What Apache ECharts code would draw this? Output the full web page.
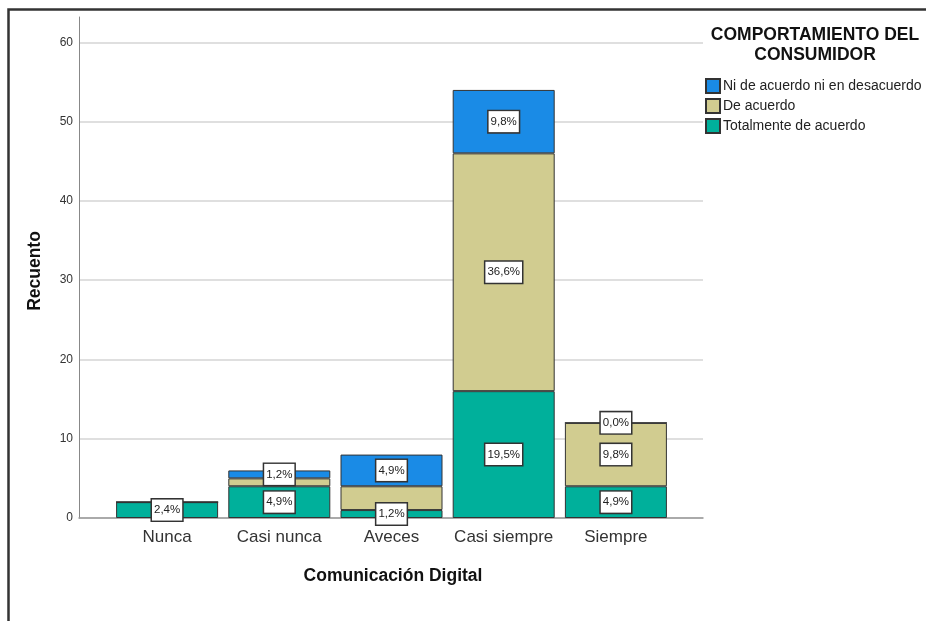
<!DOCTYPE html>
<html>
<head>
<meta charset="utf-8">
<script src="https://cdn.jsdelivr.net/npm/echarts@6/dist/echarts.min.js"></script>
<style>html,body{margin:0;padding:0;background:#fff}#c{width:926px;height:621px}</style>
</head>
<body>
<div id="c"></div>
<script>
const categories = ['Nunca', 'Casi nunca', 'Aveces', 'Casi siempre', 'Siempre'];
const seriesNames = ['Ni de acuerdo ni en desacuerdo', 'De acuerdo', 'Totalmente de acuerdo'];
const totalmente = [2, 4, 1, 16, 4];
const deAcuerdo = [0, 1, 3, 30, 8];
const niNi = [0, 1, 4, 8, 0];
const labTotalmente = ['2,4%', '4,9%', '1,2%', '19,5%', '4,9%'];
const labDeAcuerdo = ['', '', '', '36,6%', '9,8%'];
const labNiNi = ['', '1,2%', '4,9%', '9,8%', '0,0%'];
const yTicks = [0, 10, 20, 30, 40, 50, 60];

const FONT = '"Liberation Sans", Arial, sans-serif';
const colors = { niNi: '#1a8be6', deAcuerdo: '#d1cc90', totalmente: '#00b09b' };

const labelStyle = {
  position: 'inside',
  fontFamily: FONT,
  fontSize: 11.5,
  color: '#222',
  backgroundColor: '#fff',
  borderColor: '#333',
  borderWidth: 1.5,
  padding: [5, 2, 4, 2]
};

function makeData(values, labels) {
  return values.map((v, i) => ({
    value: v,
    label: { show: labels[i] !== '', formatter: labels[i] }
  }));
}

function makeSeries(name, values, labels, color) {
  return {
    name: name,
    type: 'bar',
    stack: 'total',
    xAxisIndex: 1,
    yAxisIndex: 1,
    barWidth: 102,
    itemStyle: { color: color, borderColor: '#333', borderWidth: 1 },
    label: labelStyle,
    emphasis: { disabled: true },
    data: makeData(values, labels)
  };
}

const YMAX = 63.2;
const chart = echarts.init(document.getElementById('c'), null, { renderer: 'canvas' });
chart.setOption({
  animation: false,
  backgroundColor: '#fff',
  textStyle: { fontFamily: FONT },
  grid: [
    { left: 79, width: 624, top: 17, bottom: 103 },
    { left: 111, width: 561, top: 17, bottom: 103 }
  ],
  xAxis: [
    {
      gridIndex: 0, type: 'value', min: 0, max: 1,
      axisLine: { show: true, lineStyle: { color: '#999', width: 1.5 } },
      axisTick: { show: false }, axisLabel: { show: false }, splitLine: { show: false }
    },
    {
      gridIndex: 1, type: 'category', data: categories,
      axisLine: { show: false }, axisTick: { show: false },
      axisLabel: { fontFamily: FONT, fontSize: 17, color: '#333', margin: 11, interval: 0 }
    }
  ],
  yAxis: [
    {
      gridIndex: 0, type: 'value', min: 0, max: YMAX, interval: 10,
      axisLine: { show: true, lineStyle: { color: '#888', width: 1 } },
      axisTick: { show: false },
      axisLabel: {
        fontFamily: FONT, fontSize: 12, color: '#333', margin: 6,
        formatter: v => (yTicks.indexOf(v) >= 0 ? String(v) : '')
      },
      splitLine: { show: true, showMaxLine: false, lineStyle: { color: '#d4d4d4', width: 1.5 } }
    },
    {
      gridIndex: 1, type: 'value', min: 0, max: YMAX, interval: 10,
      show: false, splitLine: { show: false }
    }
  ],
  legend: {
    orient: 'vertical',
    left: 700, top: 73,
    itemWidth: 14, itemHeight: 14, itemGap: 4,
    icon: 'rect',
    data: seriesNames,
    textStyle: { fontFamily: FONT, fontSize: 14, color: '#222', padding: [0, 0, 0, -2] },
    selectedMode: false
  },
  graphic: [
    {
      type: 'rect', silent: true,
      shape: { x: 8.5, y: 9.5, width: 1000, height: 1000 },
      style: { fill: 'none', stroke: '#333', lineWidth: 2.5 }
    },
    {
      type: 'text', x: 815, y: 25,
      style: {
        text: 'COMPORTAMIENTO DEL\nCONSUMIDOR', fontFamily: FONT, fontSize: 17.5, fontWeight: 'bold',
        fill: '#111', align: 'center', lineHeight: 20
      }
    },
    {
      type: 'text', x: 35, y: 271, rotation: Math.PI / 2,
      style: {
        text: 'Recuento', fontFamily: FONT, fontSize: 17.5, fontWeight: 'bold',
        fill: '#111', align: 'center', verticalAlign: 'middle'
      }
    },
    {
      type: 'text', x: 393, y: 576,
      style: {
        text: 'Comunicación Digital', fontFamily: FONT, fontSize: 17.5, fontWeight: 'bold',
        fill: '#111', align: 'center', verticalAlign: 'middle'
      }
    }
  ],
  series: [
    makeSeries(seriesNames[2], totalmente, labTotalmente, colors.totalmente),
    makeSeries(seriesNames[1], deAcuerdo, labDeAcuerdo, colors.deAcuerdo),
    makeSeries(seriesNames[0], niNi, labNiNi, colors.niNi)
  ]
});
</script>
</body>
</html>
